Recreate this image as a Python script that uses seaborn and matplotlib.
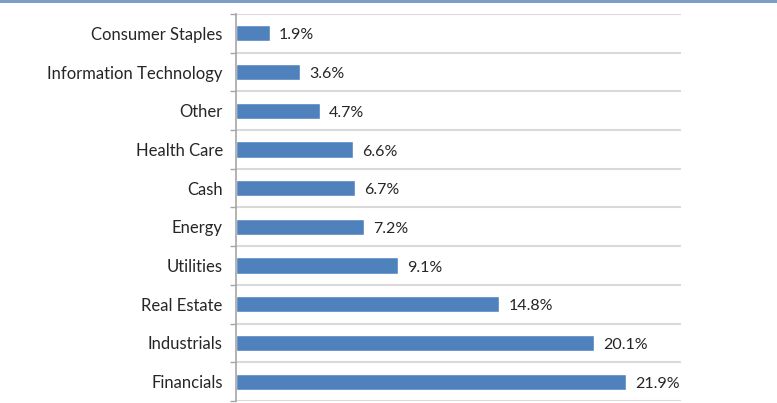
import matplotlib
matplotlib.use("Agg")
import matplotlib.pyplot as plt
import seaborn as sns
import pandas as pd
from matplotlib.patches import Rectangle
from matplotlib.ticker import FixedLocator

categories = ["Consumer Staples", "Information Technology", "Other", "Health Care", "Cash",
              "Energy", "Utilities", "Real Estate", "Industrials", "Financials"]
values = [1.9, 3.6, 4.7, 6.6, 6.7, 7.2, 9.1, 14.8, 20.1, 21.9]
value_labels = ["1.9%", "3.6%", "4.7%", "6.6%", "6.7%", "7.2%", "9.1%", "14.8%", "20.1%", "21.9%"]

sns.set_theme(style="white")
plt.rcParams['font.family'] = ['Lato', 'DejaVu Sans']

W, H = 777, 403
fig = plt.figure(figsize=(W / 100, H / 100), dpi=100)
ax = fig.add_axes([236 / W, 1 - 401 / H, (681 - 236) / W, (401 - 14) / H])

df = pd.DataFrame({"cat": categories, "val": values})
sns.barplot(data=df, x="val", y="cat", orient="h", color="#4F81BD", saturation=1,
            width=0.42, ax=ax)

ax.set_xlim(0, 25)
ax.set_ylim(len(categories) - 0.5, -0.5)
ax.set_xlabel("")
ax.set_ylabel("")
ax.set_xticks([])

ax.yaxis.set_minor_locator(FixedLocator([i - 0.5 for i in range(len(categories) + 1)]))
ax.tick_params(axis="y", which="major", length=0, pad=9.5, labelsize=12, labelcolor="#262626")
ax.tick_params(axis="y", which="minor", length=4, width=1, color="#a6a6a6", left=True)
ax.grid(True, which="minor", axis="y", color="#d9d9d9", linewidth=1.5)
ax.grid(False, which="major")

for s in ["top", "right", "bottom"]:
    ax.spines[s].set_visible(False)
ax.spines["left"].set_color("#a6a6a6")
ax.spines["left"].set_linewidth(1.2)

for i, (v, lab) in enumerate(zip(values, value_labels)):
    ax.annotate(lab, xy=(v, i), xytext=(6.5, -1.5), textcoords="offset points",
                va="center", ha="left", fontsize=11.5, color="#262626")

fig.add_artist(Rectangle((0, 1 - 3 / H), 1, 3 / H, transform=fig.transFigure,
                         color="#7C9DC6", lw=0))

fig.savefig("out.png", dpi=100)
